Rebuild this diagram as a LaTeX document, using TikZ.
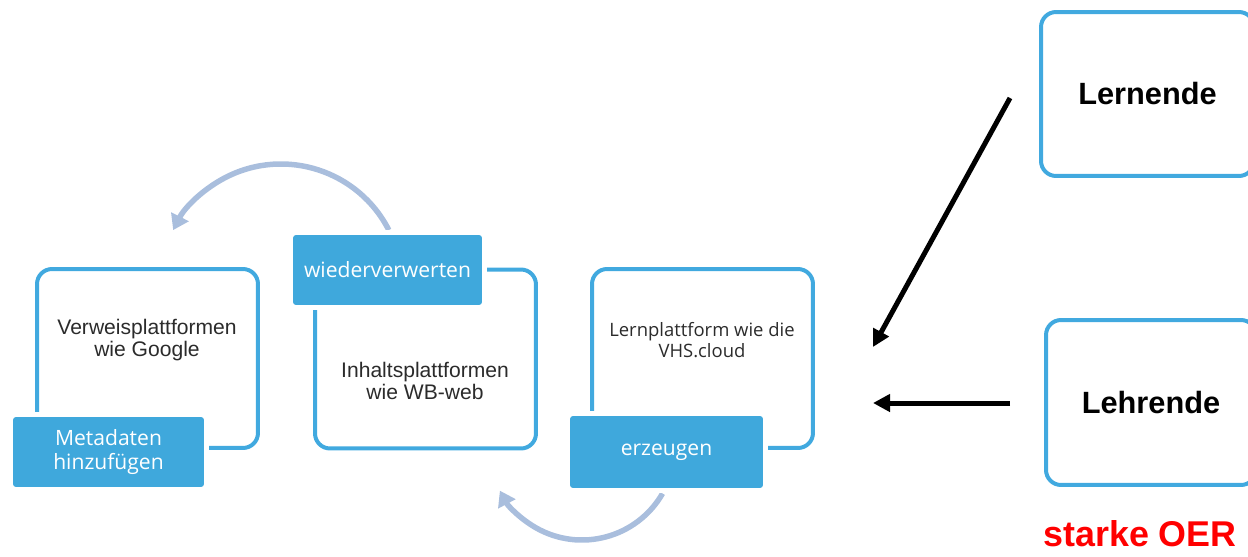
\documentclass[tikz,border=0pt]{standalone}
\usepackage{fontspec}
\setmainfont{Liberation Sans}
\newfontfamily\opensans{Open Sans}
\usetikzlibrary{arrows.meta}
\definecolor{oblue}{HTML}{41A9DF}
\definecolor{fblue}{HTML}{3FA8DC}
\definecolor{arcc}{HTML}{A9BEDD}
\definecolor{txtc}{HTML}{2B2B2B}
\begin{document}
\begin{tikzpicture}[x=0.02cm,y=0.02cm,
  outl/.style={draw=oblue, line width=0.08cm, rounded corners=0.3cm, minimum width=4.42cm, minimum height=3.58cm, inner sep=0pt},
  fillbox/.style={fill=fblue, rounded corners=0.06cm, preaction={draw=white, line width=0.2cm}, text=white, font=\opensans\fontsize{12}{14.2}\selectfont, align=center, inner sep=0pt},
  arialtxt/.style={text=txtc, font=\fontsize{12}{12.8}\selectfont, align=center, inner sep=0pt},
  roleb/.style={draw=oblue, line width=0.08cm, rounded corners=0.3cm, inner sep=0pt, font=\bfseries\fontsize{17.5}{20}\selectfont},
  arcarrow/.style={draw=arcc, line width=0.11cm, -{Triangle[length=0.3cm,width=0.38cm]}},
  blackarrow/.style={draw=black, line width=0.1cm, -{Triangle[length=0.34cm,width=0.34cm]}}
]
\useasboundingbox (0,0) rectangle (1248,556);

% curved arrows (behind boxes)
\coordinate (ac1) at (281,271);
\draw[arcarrow] (ac1) ++(27:121) arc[start angle=27,end angle=153,radius=121];
\coordinate (ac2) at (582,109);
\draw[arcarrow] (ac2) ++(-30:93) arc[start angle=-30,end angle=-152,radius=93];

% outlined boxes
\node[outl] (b1) at (147.5,197.5) {};
\node[outl] (b2) at (425.5,197) {};
\node[outl] (b3) at (702.5,197.5) {};

% box texts
\node[arialtxt] (t1) at (147,216) {Verweisplattformen\\wie Google};
\node[arialtxt, font=\fontsize{12}{13}\selectfont] (t2) at (425,175) {Inhaltsplattformen\\wie WB-web};
\node[text=txtc, font=\opensans\fontsize{10.5}{11.5}\selectfont, align=center, inner sep=0pt] (t3) at (702,216) {Lernplattform wie die\\VHS.cloud};

% filled label boxes
\node[fillbox, minimum width=3.82cm, minimum height=1.4cm] (m) at (108.5,104) {Metadaten\\hinzufügen};
\node[fillbox, minimum width=3.78cm, minimum height=1.4cm] (w) at (387.5,286) {wiederverwerten};
\node[fillbox, minimum width=3.86cm, minimum height=1.44cm] (e) at (666.5,104) {erzeugen};

% right side
\node[roleb, minimum width=4.26cm, minimum height=3.28cm] (lern) at (1147.5,462) {Lernende};
\node[roleb, minimum width=4.2cm, minimum height=3.3cm] (lehr) at (1151,153.5) {Lehrende};

\coordinate (s1) at (1010,458);
\coordinate (e1) at (873,209);
\coordinate (s2) at (1010,153);
\coordinate (e2) at (873,153);
\draw[blackarrow] (s1) -- (e1);
\draw[blackarrow] (s2) -- (e2);

\node[text=red, font=\bfseries\fontsize{20.4}{23}\selectfont, inner sep=0pt] (oer) at (1140,22) {starke OER};
\end{tikzpicture}
\end{document}
